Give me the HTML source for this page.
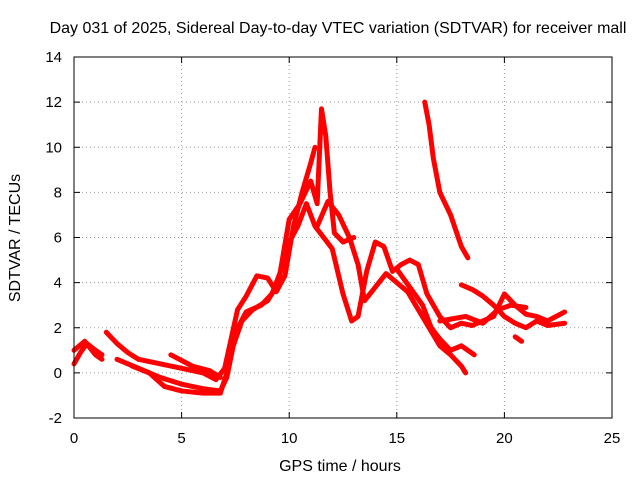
<!DOCTYPE html>
<html><head><meta charset="utf-8"><style>
body{margin:0;background:#fff;}
svg{font-family:"Liberation Sans",sans-serif;}
</style></head><body>
<svg id="chart" width="640" height="480">
<rect width="640" height="480" fill="#fff"/>
<text x="338" y="33" font-size="16" text-anchor="middle">Day 031 of 2025, Sidereal Day-to-day VTEC variation (SDTVAR) for receiver mall</text>
<text x="340" y="471" font-size="16" text-anchor="middle">GPS time / hours</text>
<text x="20" y="238" font-size="16" text-anchor="middle" transform="rotate(-90 20 238)">SDTVAR / TECUs</text>
<g id="grid"></g><g id="ticks"></g><g id="series"></g>
<rect x="74" y="57" width="538" height="361" fill="none" stroke="#000"/>
</svg>
<script>
const xTicks=[0,5,10,15,20,25];
const yTicks=[-2,0,2,4,6,8,10,12,14];
const arcs=[
[[0,0.4],[0.3,0.9],[0.6,1.3],[1,1.0],[1.3,0.8]],
[[0,1.0],[0.5,1.4],[1,0.8],[1.3,0.6]],
[[1.5,1.8],[2,1.3],[2.5,0.9],[3,0.6],[4,0.4],[5,0.2],[6,0.0],[6.6,-0.3],[7,0.2],[7.3,1.5],[7.6,2.8],[8,3.4],[8.5,4.3],[9,4.2],[9.4,3.6],[9.8,4.3],[10.2,6.5],[10.6,8.0],[11,9.3],[11.2,10.0]],
[[2,0.6],[3,0.2],[4,-0.2],[5,-0.5],[6,-0.7],[6.8,-0.8],[7.1,-0.2],[7.4,1.2],[7.8,2.3],[8.3,2.8],[9,3.2],[9.5,4.0],[10,6.8],[10.5,7.5],[11,8.5],[11.3,7.5],[11.5,11.7],[11.7,10.5],[11.9,8.0],[12.1,6.2],[12.5,5.8],[13,6.0]],
[[2.7,0.3],[3.5,0],[4.2,-0.6],[5,-0.8],[6,-0.9],[6.8,-0.9],[7.2,0.3],[7.5,1.8],[8,2.7],[8.7,3.0],[9.2,3.5],[9.6,4.5],[10,5.8],[10.4,6.5],[10.8,7.5],[11.2,6.5],[11.6,6.0],[12,5.5],[12.5,3.5],[12.9,2.3],[13.2,2.5],[13.6,4.5],[14,5.8],[14.4,5.6],[14.8,4.5],[15.2,4.8],[15.6,5.0],[16,4.8],[16.4,3.5],[17,2.5],[17.5,2.0],[18,2.2],[18.5,2.1],[19,2.3],[19.5,2.5],[20,3.5],[20.5,3.0],[21,2.6],[21.5,2.5],[22,2.3],[22.8,2.7]],
[[4.5,0.8],[5.5,0.3],[6.3,0.1],[6.8,-0.2]],
[[11.3,6.5],[11.8,7.6],[12.3,7.0],[12.8,6.0],[13.2,4.8],[13.5,3.2],[14,3.8],[14.5,4.4],[15,4.0],[15.5,3.6],[16,2.8],[16.5,2.0],[17,1.2],[17.5,0.8],[18,0.3],[18.2,0.0]],
[[15,4.6],[15.6,3.8],[16.2,3.0],[16.6,2.0],[17,1.5],[17.5,1.0],[18,1.2],[18.6,0.8]],
[[16.3,12.0],[16.5,11.0],[16.7,9.5],[17,8.0],[17.5,7.0],[18,5.6],[18.3,5.1]],
[[18,3.9],[18.5,3.7],[19,3.4],[19.5,3.0],[20,2.5],[20.5,2.2],[21,2.0],[21.5,2.3],[22,2.1],[22.8,2.2]],
[[20.5,1.6],[20.8,1.4]],
[[17,2.3],[17.6,2.4],[18.2,2.5],[19,2.2],[19.7,2.8],[20.3,3.0],[21,2.9]]
];
const X=v=>74+v*538/25, Y=v=>418-(v+2)*361/16;
const ns="http://www.w3.org/2000/svg";
const g=document.getElementById('grid'),t=document.getElementById('ticks'),s=document.getElementById('series');
function mk(p,tag,a){const e=document.createElementNS(ns,tag);for(const k in a)e.setAttribute(k,a[k]);p.appendChild(e);return e;}
xTicks.forEach(v=>{
 const l=mk(g,'line',{x1:X(v),x2:X(v),y1:57,y2:418,stroke:'#999','stroke-dasharray':'1,3'});
 
 
 const tx=mk(t,'text',{x:X(v),y:443,'font-size':15,'text-anchor':'middle'});tx.textContent=v;
 
 
 mk(t,'line',{x1:X(v),x2:X(v),y1:418,y2:412,stroke:'#000'});
 mk(t,'line',{x1:X(v),x2:X(v),y1:57,y2:63,stroke:'#000'});
});
yTicks.forEach(v=>{
 const l=mk(g,'line',{x1:74,x2:612,y1:Y(v),y2:Y(v),stroke:'#999','stroke-dasharray':'1,3'});
 
 
 const tx=mk(t,'text',{x:62,y:Y(v)+5,'font-size':15,'text-anchor':'end'});tx.textContent=v;
 
 
 mk(t,'line',{x1:74,x2:80,y1:Y(v),y2:Y(v),stroke:'#000'});
 mk(t,'line',{x1:612,x2:606,y1:Y(v),y2:Y(v),stroke:'#000'});
});
arcs.forEach(a=>{
 const p=mk(s,'polyline',{points:a.map(d=>X(d[0])+','+Y(d[1])).join(' '),fill:'none',stroke:'#ff0000','stroke-width':5,'stroke-linejoin':'round','stroke-linecap':'round'});
 
 
});
</script>
</body></html>
